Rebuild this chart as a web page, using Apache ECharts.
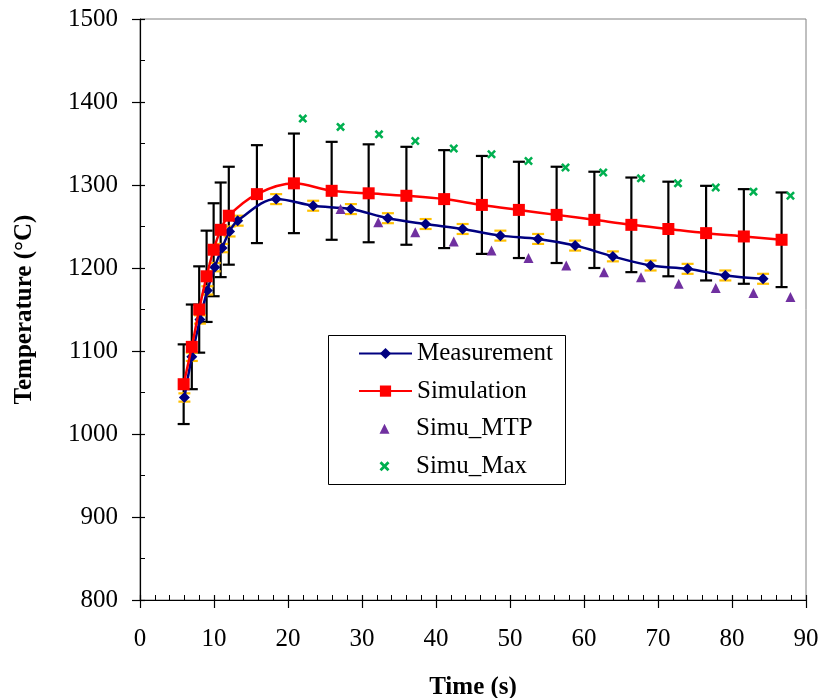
<!DOCTYPE html>
<html>
<head>
<meta charset="utf-8">
<script src="https://cdn.jsdelivr.net/npm/echarts@6/dist/echarts.min.js"></script>
<style>html,body{margin:0;padding:0;background:#fff}#c{width:824px;height:698px}</style>
</head>
<body>
<div id="c"></div>
<script>
// ---- data ----
const xTicks = [0, 10, 20, 30, 40, 50, 60, 70, 80, 90];
const yTicks = [800, 900, 1000, 1100, 1200, 1300, 1400, 1500];

const measT   = [6.0, 7.0, 8.1, 9.1, 10.1, 11.1, 12.1, 13.2, 18.4, 23.4, 28.5, 33.5, 38.6, 43.6, 48.7, 53.8, 58.8, 63.9, 69.0, 74.0, 79.1, 84.2];
const measV   = [1044, 1093, 1138, 1173, 1201, 1224, 1244, 1257, 1283, 1275, 1271, 1260, 1253, 1247, 1239, 1235, 1227, 1214, 1203, 1199, 1191, 1187];
const measErr = [5, 5, 5, 5, 5, 5, 6, 6, 6, 6, 6, 6, 6, 6, 6, 6, 6, 6, 6, 6, 6, 6];

const simT   = [5.9, 7.0, 8.0, 9.0, 9.95, 10.9, 12.0, 15.8, 20.8, 25.9, 30.9, 36.0, 41.1, 46.2, 51.2, 56.3, 61.4, 66.4, 71.4, 76.5, 81.6, 86.7];
const simV   = [1060, 1105, 1150, 1190, 1222, 1246, 1263, 1289, 1302, 1293, 1290, 1287, 1283, 1276, 1270, 1264, 1258, 1252, 1247, 1242, 1238, 1234];
const simErr = [48, 51, 52, 55, 56, 57, 59, 59, 60, 59, 59, 59, 59, 59, 58, 58, 58, 57, 57, 57, 57, 57];

const mtpT = [27.1, 32.2, 37.2, 42.4, 47.5, 52.5, 57.6, 62.7, 67.7, 72.8, 77.8, 82.9, 87.9];
const mtpV = [1271, 1255, 1243, 1232, 1221, 1212, 1203, 1195, 1189, 1181, 1176, 1170, 1165];

const maxT = [22.0, 27.1, 32.3, 37.2, 42.4, 47.5, 52.5, 57.5, 62.6, 67.7, 72.7, 77.8, 82.9, 87.9];
const maxV = [1380, 1370, 1361, 1353, 1344, 1337, 1329, 1321, 1315, 1308, 1302, 1297, 1292, 1287];

const seriesNames = ['Measurement', 'Simulation', 'Simu_MTP', 'Simu_Max'];

// ---- chart ----
const FONT = '"Liberation Serif", "Times New Roman", serif';
const chart = echarts.init(document.getElementById('c'), null, {renderer: 'canvas'});

function errorBarRenderer(color, capHalf, lw, drawStem) {
  return function (params, api) {
    const x = api.value(0), y = api.value(1), e = api.value(2);
    const top = api.coord([x, y + e]);
    const bot = api.coord([x, y - e]);
    const st = {stroke: color, lineWidth: lw};
    const children = [
      {type: 'line', shape: {x1: top[0] - capHalf, y1: top[1], x2: top[0] + capHalf, y2: top[1]}, style: st},
      {type: 'line', shape: {x1: bot[0] - capHalf, y1: bot[1], x2: bot[0] + capHalf, y2: bot[1]}, style: st}
    ];
    if (drawStem) children.push({type: 'line', shape: {x1: top[0], y1: top[1], x2: bot[0], y2: bot[1]}, style: st});
    return {type: 'group', children: children};
  };
}

const gridPos = {left: 140, right: 18, top: 19, bottom: 98, outerBoundsMode: 'none', containLabel: false};
const xRange = {min: xTicks[0], max: xTicks[xTicks.length - 1], interval: xTicks[1] - xTicks[0]};
const yRange = {min: yTicks[0], max: yTicks[yTicks.length - 1], interval: yTicks[1] - yTicks[0]};

const crossPath = 'path://M0,2L2,0L5,3L8,0L10,2L7,5L10,8L8,10L5,7L2,10L0,8L3,5Z';
// legend icons: marker centred in a 53x11 box (degenerate corner points fix the box)
const triLegend = 'path://M0,0L0.01,0L0,0Z M21.5,10.5L26.5,0.5L31.5,10.5Z M53,11L52.99,11L53,11Z';
const crossLegend = 'path://M0,0L0.01,0L0,0Z M21.5,2.5L23.5,0.5L26.5,3.5L29.5,0.5L31.5,2.5L28.5,5.5L31.5,8.5L29.5,10.5L26.5,7.5L23.5,10.5L21.5,8.5L24.5,5.5Z M53,11L52.99,11L53,11Z';

const legendCommon = {
  orient: 'vertical', padding: 0, itemGap: 12.6, itemWidth: 53,
  textStyle: {fontFamily: FONT, fontSize: 25, color: '#000'},
  z: 10
};

const option = {
  animation: false,
  backgroundColor: '#ffffff',
  textStyle: {fontFamily: FONT},
  grid: [
    Object.assign({show: true, borderColor: '#808080', borderWidth: 1, backgroundColor: 'transparent'}, gridPos),
    Object.assign({show: false}, gridPos)
  ],
  graphic: [{
    type: 'rect', z: 9, left: 328, top: 335,
    shape: {width: 237, height: 149},
    style: {fill: '#fff', stroke: '#000', lineWidth: 1}
  }],
  legend: [
    Object.assign({}, legendCommon, {
      data: seriesNames.slice(0, 2), left: 358, top: 341, itemHeight: 14
    }),
    Object.assign({}, legendCommon, {
      data: [{name: seriesNames[2], icon: triLegend}, {name: seriesNames[3], icon: crossLegend}],
      left: 358, top: 416.2, itemHeight: 11, symbolKeepAspect: false
    })
  ],
  xAxis: [
    Object.assign({
      type: 'value', gridIndex: 0, position: 'bottom',
      axisLine: {show: true, onZero: false, lineStyle: {color: '#000', width: 1.2}},
      axisTick: {show: true, inside: true, length: 5, lineStyle: {color: '#000', width: 1.2}},
      minorTick: {show: true, splitNumber: 5, length: 5, lineStyle: {color: '#000', width: 1}},
      splitLine: {show: false},
      axisLabel: {fontFamily: FONT, fontSize: 25, color: '#000', margin: 27},
      name: 'Time (s)', nameLocation: 'middle', nameGap: 75,
      nameTextStyle: {fontFamily: FONT, fontSize: 25, fontWeight: 'bold', color: '#000'}
    }, xRange),
    Object.assign({
      type: 'value', gridIndex: 1, position: 'bottom',
      axisLine: {show: false},
      axisTick: {show: true, inside: false, length: 8, lineStyle: {color: '#000', width: 1.2}},
      axisLabel: {show: false}, splitLine: {show: false}
    }, xRange)
  ],
  yAxis: [
    Object.assign({
      type: 'value', gridIndex: 0, position: 'left',
      axisLine: {show: true, onZero: false, lineStyle: {color: '#000', width: 1.2}},
      axisTick: {show: true, inside: true, length: 5, lineStyle: {color: '#000', width: 1.2}},
      minorTick: {show: true, splitNumber: 2, length: 5, lineStyle: {color: '#000', width: 1}},
      splitLine: {show: false},
      axisLabel: {fontFamily: FONT, fontSize: 25, color: '#000', margin: 22, formatter: v => String(v)},
      name: 'Temperature (°C)', nameLocation: 'middle', nameGap: 103, nameRotate: 90,
      nameTextStyle: {fontFamily: FONT, fontSize: 25, fontWeight: 'bold', color: '#000'}
    }, yRange),
    Object.assign({
      type: 'value', gridIndex: 1, position: 'left',
      axisLine: {show: false},
      axisTick: {show: true, inside: false, length: 8, lineStyle: {color: '#000', width: 1.2}},
      axisLabel: {show: false}, splitLine: {show: false}
    }, yRange)
  ],
  series: [
    {
      name: 'simErr', type: 'custom', xAxisIndex: 0, yAxisIndex: 0, z: 1,
      renderItem: errorBarRenderer('#000', 6, 2.2, true),
      encode: {x: 0, y: 1},
      data: simT.map((t, i) => [t, simV[i], simErr[i]])
    },
    {
      name: 'measErr', type: 'custom', xAxisIndex: 0, yAxisIndex: 0, z: 1,
      renderItem: errorBarRenderer('#FFC000', 6, 2.2, true),
      encode: {x: 0, y: 1},
      data: measT.map((t, i) => [t, measV[i], measErr[i]])
    },
    {
      name: seriesNames[0], type: 'line', xAxisIndex: 0, yAxisIndex: 0, z: 3,
      smooth: 0.35,
      symbol: 'diamond', symbolSize: 11,
      lineStyle: {color: '#000080', width: 2.5},
      itemStyle: {color: '#000080'},
      data: measT.map((t, i) => [t, measV[i]])
    },
    {
      name: seriesNames[1], type: 'line', xAxisIndex: 0, yAxisIndex: 0, z: 4,
      smooth: 0.35,
      symbol: 'rect', symbolSize: 12,
      lineStyle: {color: '#FF0000', width: 2.5},
      itemStyle: {color: '#FF0000'},
      data: simT.map((t, i) => [t, simV[i]])
    },
    {
      name: seriesNames[2], type: 'scatter', xAxisIndex: 0, yAxisIndex: 0, z: 5,
      symbol: 'triangle', symbolSize: 10,
      itemStyle: {color: '#7030A0', opacity: 1},
      data: mtpT.map((t, i) => [t, mtpV[i]])
    },
    {
      name: seriesNames[3], type: 'scatter', xAxisIndex: 0, yAxisIndex: 0, z: 5,
      symbol: crossPath, symbolSize: 9,
      itemStyle: {color: '#00B050', opacity: 1},
      data: maxT.map((t, i) => [t, maxV[i]])
    }
  ]
};
chart.setOption(option);
</script>
</body>
</html>
